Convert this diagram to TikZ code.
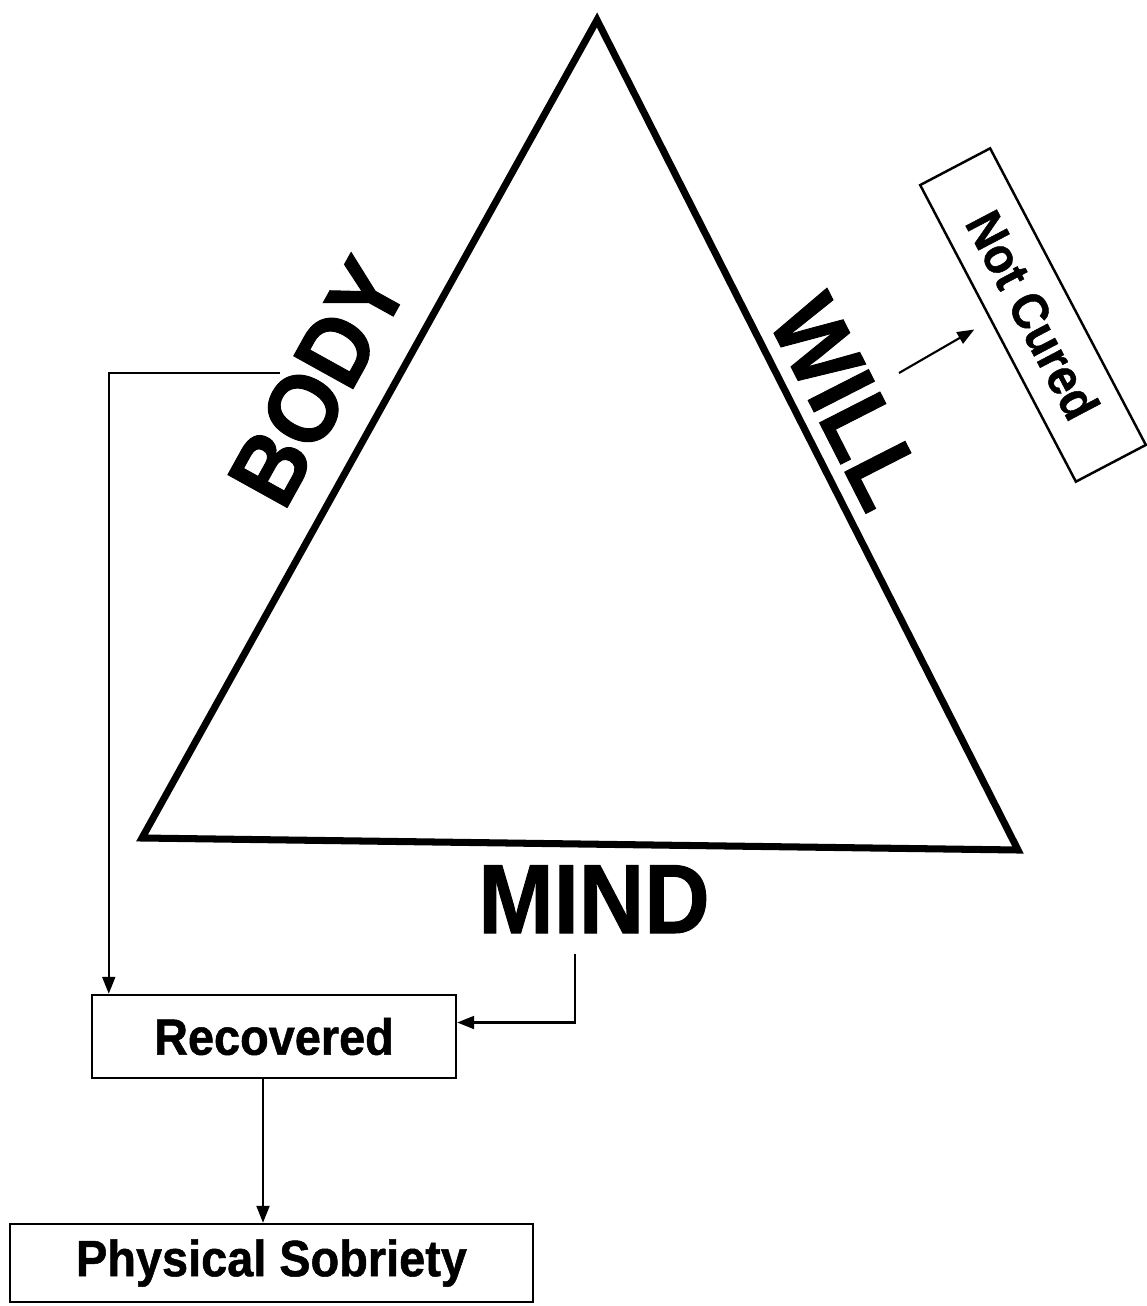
\documentclass[tikz,border=0pt]{standalone}
\usepackage{fontspec}
\newfontfamily\diagfont[FakeStretch=0.92, BoldFeatures={FakeBold=1}]{Liberation Sans}
\usetikzlibrary{positioning,arrows.meta,calc}

\begin{document}
\begin{tikzpicture}[
  >={Triangle[length=1.7mm,width=1.3mm]},
  bigword/.style={font=\diagfont\bfseries\fontsize{28pt}{30pt}\selectfont, inner sep=0pt},
  box/.style={draw, line width=0.7pt, inner sep=2pt, align=center,
    font=\diagfont\bfseries\fontsize{14.5pt}{16pt}\selectfont},
  link/.style={->, line width=0.6pt}
]
\useasboundingbox (0,0) rectangle (11.46,-13.06);
% triangle
\coordinate (apex) at (5.97,-0.20);
\coordinate (bl)   at (1.42,-8.38);
\coordinate (br)   at (10.18,-8.50);
\draw[line width=2pt] (apex) -- (bl) -- (br) -- cycle;
% sides
\node[bigword, rotate=61]  (body) at (3.18,-3.82) {BODY};
\node[bigword, rotate=-63] (will) at (8.47,-4.02) {WILL};
\node[bigword, anchor=base] (mind) at (5.94,-9.33) {MIND};
% boxes
\node[box, rotate=-62.3, minimum width=3.35cm, minimum height=0.79cm,
  font=\diagfont\bfseries\fontsize{14.5pt}{16pt}\selectfont] (nc) at (10.33,-3.15) {Not Cured};
\node[box, minimum width=3.64cm, minimum height=0.83cm] (rec) at (2.74,-10.365) {Recovered};
\node[box, minimum width=5.23cm, minimum height=0.78cm] (phys) at (2.715,-12.63) {Physical Sobriety};
% arrows
\coordinate (bodyOut) at (2.80,-3.73);
\coordinate (ncTail)  at (8.99,-3.73);
\draw[link] (bodyOut) -| ([xshift=0.18cm]rec.north west);
\draw[link] ([xshift=-0.19cm,yshift=-0.2cm]mind.south) |- ([yshift=0.14cm]rec.east);
\draw[link] ([xshift=-0.11cm]rec.south) -- ([xshift=-0.11cm]rec.south |- phys.north);
\draw[link, shorten >=0.18cm] (ncTail) -- ($(nc.south)!0.09!(nc.south west)$);
\end{tikzpicture}
\end{document}
